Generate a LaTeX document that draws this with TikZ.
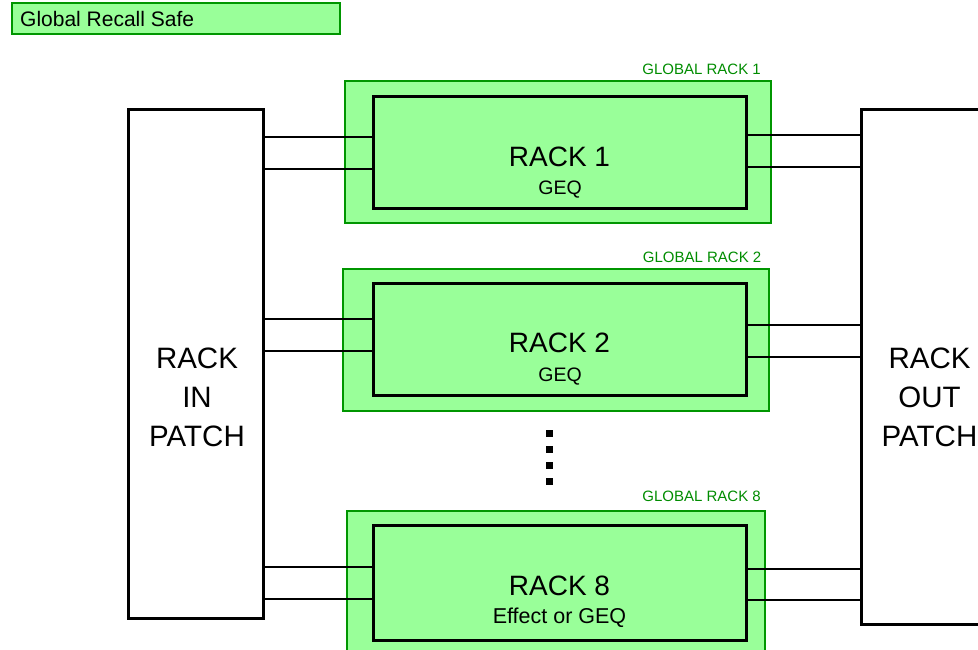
\documentclass[tikz,border=0pt]{standalone}
\usepackage{fontspec}
\setmainfont{Liberation Sans}
\definecolor{lg}{RGB}{153,255,153}
\definecolor{gb}{RGB}{0,150,0}
\definecolor{gt}{RGB}{0,140,0}
\begin{document}
\begin{tikzpicture}[x=1pt,y=-1pt,
  outerbox/.style={draw=gb,fill=lg,line width=1.3pt,inner sep=0pt},
  innerbox/.style={draw=black,fill=lg,line width=3pt,inner sep=0pt,minimum width=373pt},
  patchbox/.style={draw=black,fill=white,line width=3pt,inner sep=0pt,minimum width=135pt},
  wire/.style={line width=2pt},
  bigtext/.style={font=\fontsize{28}{39}\selectfont,inner sep=0pt,align=center},
  patchtext/.style={font=\fontsize{29.5}{39}\selectfont,inner sep=0pt,align=center},
  subtext/.style={font=\fontsize{19.5}{22}\selectfont,inner sep=0pt},
  glabel/.style={font=\fontsize{15}{17}\selectfont,text=gt,inner sep=0pt,anchor=base east},
  dotsq/.style={fill=black,minimum size=7pt,inner sep=0pt}]
\useasboundingbox (0,0) rectangle (978,650);
% legend
\node[outerbox,minimum width=328pt,minimum height=31pt] (legend) at (176,18.5) {};
\node[font=\fontsize{21}{24}\selectfont,inner sep=0pt,anchor=base west] (legendtext) at (20,26.5) {Global Recall Safe};
% patches
\node[patchbox,minimum height=508.5pt] (inpatch) at (196,364.25) {};
\node[patchtext] (intext) at (197,397.5) {RACK\\IN\\PATCH};
\node[patchbox,minimum height=514.5pt] (outpatch) at (928.5,366.75) {};
\node[patchtext] (outtext) at (929.5,397.5) {RACK\\OUT\\PATCH};
% global racks
\node[outerbox,minimum width=426pt,minimum height=142pt] (g1) at (558,152) {};
\node[outerbox,minimum width=426pt,minimum height=142pt] (g2) at (556,340) {};
\node[outerbox,minimum width=418pt,minimum height=142pt] (g8) at (556,582) {};
\node[glabel] (g1l) at (761,74.3) {GLOBAL RACK 1};
\node[glabel] (g2l) at (761.5,262.7) {GLOBAL RACK 2};
\node[glabel] (g8l) at (761,501.7) {GLOBAL RACK 8};
% wires
\draw[wire] (inpatch.east |- 0,136.7) -- (559.5,136.7) coordinate (w1a);
\draw[wire] (inpatch.east |- 0,169) -- (559.5,169) coordinate (w1b);
\draw[wire] (outpatch.west |- 0,135) -- (559.5,135) coordinate (w1c);
\draw[wire] (outpatch.west |- 0,167) -- (559.5,167) coordinate (w1d);
\draw[wire] (inpatch.east |- 0,319) -- (559.5,319) coordinate (w2a);
\draw[wire] (inpatch.east |- 0,350.7) -- (559.5,350.7) coordinate (w2b);
\draw[wire] (outpatch.west |- 0,325) -- (559.5,325) coordinate (w2c);
\draw[wire] (outpatch.west |- 0,356.7) -- (559.5,356.7) coordinate (w2d);
\draw[wire] (inpatch.east |- 0,566.7) -- (559.5,566.7) coordinate (w8a);
\draw[wire] (inpatch.east |- 0,598.7) -- (559.5,598.7) coordinate (w8b);
\draw[wire] (outpatch.west |- 0,569) -- (559.5,569) coordinate (w8c);
\draw[wire] (outpatch.west |- 0,600) -- (559.5,600) coordinate (w8d);
% inner racks
\node[innerbox,minimum height=112pt] (r1) at (559.5,153) {};
\node[innerbox,minimum height=112pt] (r2) at (559.5,339) {};
\node[innerbox,minimum height=115pt] (r8) at (559.5,582.5) {};
\node[bigtext,anchor=base] (r1t) at (559.5,166.7) {RACK 1};
\node[subtext,anchor=base] (r1s) at (560,195) {GEQ};
\node[bigtext,anchor=base] (r2t) at (559.5,352) {RACK 2};
\node[subtext,anchor=base] (r2s) at (560,381) {GEQ};
\node[bigtext,anchor=base] (r8t) at (559.5,595) {RACK 8};
\node[subtext,anchor=base,font=\fontsize{21.5}{24}\selectfont] (r8s) at (559.5,623) {Effect or GEQ};
% dots
\node[dotsq] (d1) at (549,433.3) {};
\node[dotsq] (d2) at (549,449.3) {};
\node[dotsq] (d3) at (549,465) {};
\node[dotsq] (d4) at (549,481) {};
\end{tikzpicture}
\end{document}
